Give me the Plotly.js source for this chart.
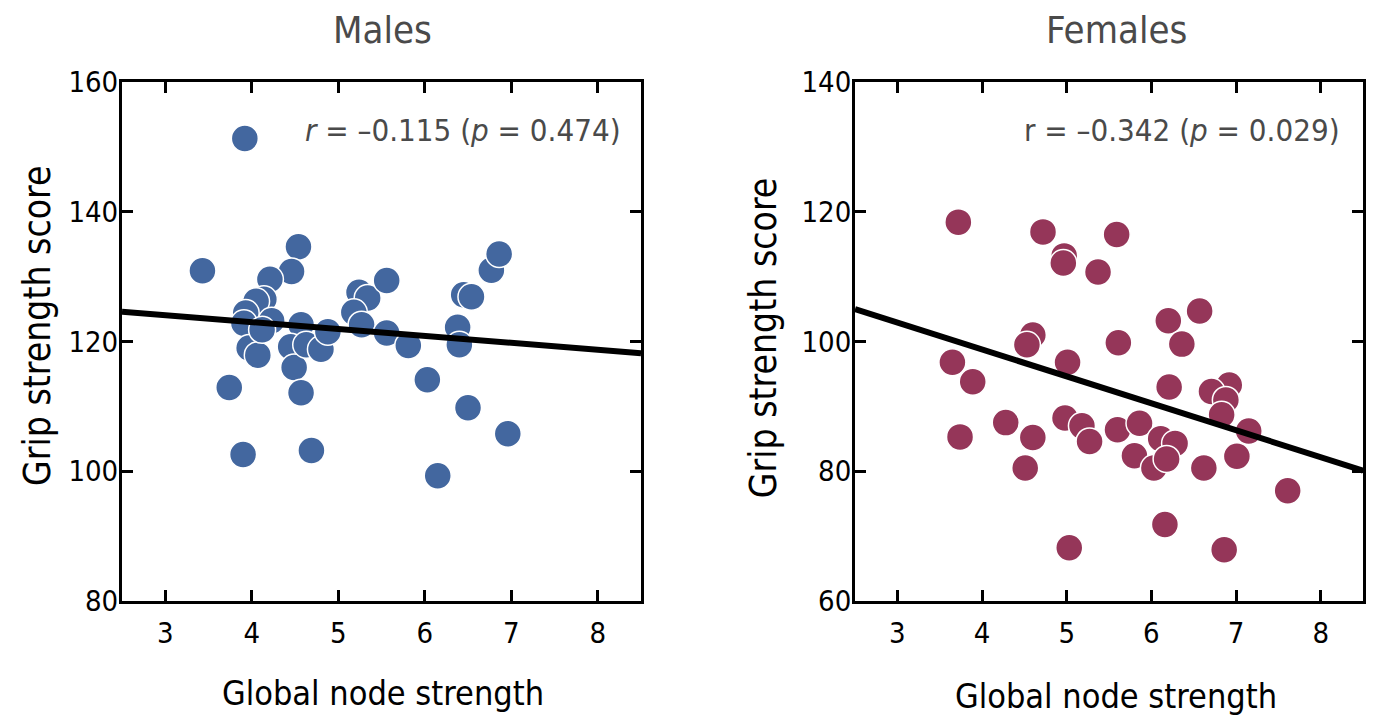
<!DOCTYPE html>
<html>
<head>
<meta charset="utf-8">
<script src="https://cdn.plot.ly/plotly-3.0.1.min.js"></script>
<style>html,body{margin:0;padding:0;background:#fff}#chart{width:1380px;height:715px}</style>
</head>
<body>
<div id="chart"></div>
<script>
// Males: global node strength vs grip strength score
const malesX = [3.92,3.43,4.54,4.46,4.21,4.14,4.05,3.93,3.91,4.23,4.57,3.97,4.07,4.45,4.49,4.63,4.80,4.88,4.57,3.74,3.90,4.69,5.24,5.34,5.56,5.18,5.27,5.56,5.81,6.03,6.15,6.50,6.96,6.38,6.40,6.45,6.54,6.77,6.86,4.12];
const malesY = [151.3,130.9,134.6,130.8,129.6,126.5,126.2,124.4,122.8,123.2,122.6,119.0,117.9,119.2,116.0,119.5,118.8,121.5,112.1,112.9,102.6,103.2,127.6,126.7,129.4,124.5,122.6,121.3,119.4,114.1,99.3,109.8,105.8,122.2,119.5,127.2,126.9,131.0,133.5,121.8];
// Females
const femalesX = [3.72,4.72,5.59,4.97,4.96,5.37,6.57,6.20,6.36,5.61,4.60,4.53,3.65,5.01,3.89,6.21,6.92,6.71,6.88,6.83,7.15,7.01,7.61,6.62,6.86,6.16,5.03,3.74,4.28,4.60,4.51,4.98,5.18,5.27,5.60,5.86,5.80,6.11,6.28,6.03,6.18];
const femalesY = [118.4,116.9,116.5,113.2,112.1,110.7,104.7,103.2,99.6,99.8,101.0,99.5,96.8,96.8,93.8,93.0,93.3,92.3,91.0,88.7,86.2,82.3,77.0,80.5,67.9,71.8,68.2,85.3,87.5,85.2,80.5,88.2,87.0,84.6,86.4,87.4,82.4,85.0,84.3,80.5,81.9];
// Regression lines (end points)
const fitX = [2.5, 8.5];
const fitMalesY = [124.6, 118.2];
const fitFemalesY = [105.0, 80.1];
// Axis ticks
const xTicks = [3,4,5,6,7,8];
const malesYTicks = [80,100,120,140,160];
const femalesYTicks = [60,80,100,120,140];
const labels = {
  malesTitle: 'Males', femalesTitle: 'Females',
  xTitle: 'Global node strength', yTitle: 'Grip strength score',
  malesStat: '<i>r</i> = \u20130.115 (<i>p</i> = 0.474)',
  femalesStat: 'r = \u20130.342 (<i>p</i> = 0.029)'
};

const FONT = '"DejaVu Sans Condensed", "Liberation Sans", Arial, sans-serif';
const BLUE = '#43679f';
const MAROON = '#953659';

const traces = [
  {x: malesX, y: malesY, type: 'scatter', mode: 'markers', xaxis: 'x', yaxis: 'y',
   marker: {size: 27, color: BLUE, line: {color: '#ffffff', width: 1.5}}, hoverinfo: 'x+y'},
  {x: fitX, y: fitMalesY, type: 'scatter', mode: 'lines', xaxis: 'x', yaxis: 'y',
   line: {color: '#000', width: 6}},
  {x: femalesX, y: femalesY, type: 'scatter', mode: 'markers', xaxis: 'x2', yaxis: 'y2',
   marker: {size: 27, color: MAROON, line: {color: '#ffffff', width: 1.5}}, hoverinfo: 'x+y'},
  {x: fitX, y: fitFemalesY, type: 'scatter', mode: 'lines', xaxis: 'x2', yaxis: 'y2',
   line: {color: '#000', width: 6}}
];

function xax(domain, anchor) {
  return {domain: domain, anchor: anchor, range: [2.5, 8.5], tickvals: xTicks,
    showline: true, linecolor: '#000', linewidth: 3, mirror: 'ticks',
    ticks: 'inside', ticklen: 11, tickwidth: 3, tickcolor: '#000',
    showgrid: false, zeroline: false, ticklabelstandoff: 4,
    tickfont: {family: FONT, size: 29, color: '#000'}};
}
function yax(domain, anchor, range, ticks) {
  return {domain: domain, anchor: anchor, range: range, tickvals: ticks,
    showline: true, linecolor: '#000', linewidth: 3, mirror: 'ticks',
    ticks: 'inside', ticklen: 11, tickwidth: 3, tickcolor: '#000',
    showgrid: false, zeroline: false, ticklabelstandoff: -5,
    tickfont: {family: FONT, size: 29, color: '#000'}};
}

const yDom = [0.1594, 0.8853];
const layout = {
  width: 1380, height: 715, showlegend: false,
  paper_bgcolor: '#fff', plot_bgcolor: '#fff',
  margin: {l: 0, r: 0, t: 0, b: 0},
  xaxis: xax([0.0884, 0.4645], 'y'),
  yaxis: yax(yDom, 'x', [80, 160], malesYTicks),
  xaxis2: xax([0.6196, 0.9877], 'y2'),
  yaxis2: yax(yDom, 'x2', [60, 140], femalesYTicks),
  annotations: [
    {text: labels.malesTitle, xref: 'paper', yref: 'paper', x: 0.2775, y: 0.958, xanchor: 'center', yanchor: 'middle', showarrow: false, font: {family: FONT, size: 38, color: '#4a4a4a'}},
    {text: labels.femalesTitle, xref: 'paper', yref: 'paper', x: 0.8087, y: 0.958, xanchor: 'center', yanchor: 'middle', showarrow: false, font: {family: FONT, size: 38, color: '#4a4a4a'}},
    {text: labels.xTitle, xref: 'paper', yref: 'paper', x: 0.2775, y: 0.0308, xanchor: 'center', yanchor: 'middle', showarrow: false, font: {family: FONT, size: 34, color: '#000'}},
    {text: labels.xTitle, xref: 'paper', yref: 'paper', x: 0.8087, y: 0.0266, xanchor: 'center', yanchor: 'middle', showarrow: false, font: {family: FONT, size: 34, color: '#000'}},
    {text: labels.yTitle, xref: 'paper', yref: 'paper', x: 0.0268, y: 0.544, xanchor: 'center', yanchor: 'middle', textangle: -90, showarrow: false, font: {family: FONT, size: 37, color: '#000'}},
    {text: labels.yTitle, xref: 'paper', yref: 'paper', x: 0.5529, y: 0.527, xanchor: 'center', yanchor: 'middle', textangle: -90, showarrow: false, font: {family: FONT, size: 37, color: '#000'}},
    {text: labels.malesStat, xref: 'paper', yref: 'paper', x: 0.4514, y: 0.818, xanchor: 'right', yanchor: 'middle', showarrow: false, font: {family: FONT, size: 31, color: '#4a4a4a'}},
    {text: labels.femalesStat, xref: 'paper', yref: 'paper', x: 0.9725, y: 0.818, xanchor: 'right', yanchor: 'middle', showarrow: false, font: {family: FONT, size: 31, color: '#4a4a4a'}}
  ]
};

Plotly.newPlot('chart', traces, layout, {displayModeBar: false, staticPlot: true});
</script>
</body>
</html>
